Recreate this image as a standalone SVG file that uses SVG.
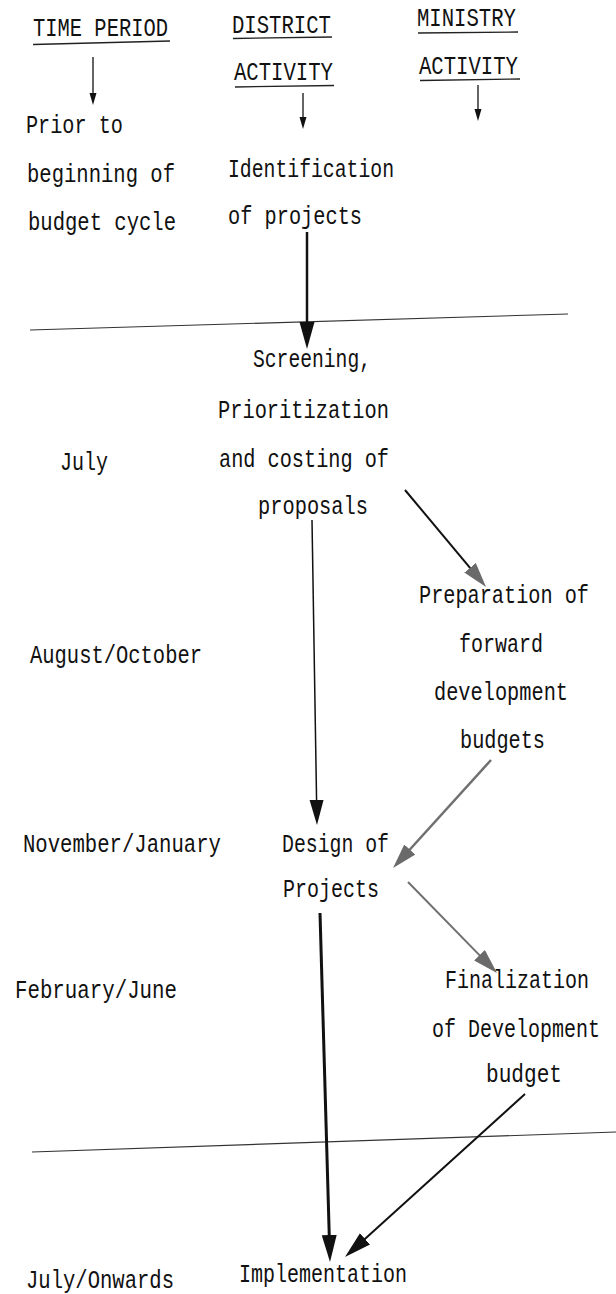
<svg xmlns="http://www.w3.org/2000/svg" width="616" height="1294" viewBox="0 0 616 1294">
<style>
  text { font-family: "Liberation Mono", "DejaVu Sans Mono", monospace; font-size: 20.5px; fill: #111; }
  .ul { stroke: #222; stroke-width: 1.3; }
  .sep { stroke: #333; stroke-width: 1.1; fill: none; }
  .blk { stroke: #111; fill: none; }
  .gry { stroke: #707070; fill: none; }
</style>
<defs>
  <marker id="ahS" markerUnits="userSpaceOnUse" markerWidth="14" markerHeight="8" refX="2" refY="3.5" orient="auto">
    <path d="M0,0 L12,3.5 L0,7 z" fill="#111"/>
  </marker>
  <marker id="ahL" markerUnits="userSpaceOnUse" markerWidth="30" markerHeight="16" refX="2" refY="7.5" orient="auto">
    <path d="M0,0 L27,7.5 L0,15 z" fill="#111"/>
  </marker>
  <marker id="ahM" markerUnits="userSpaceOnUse" markerWidth="28" markerHeight="15" refX="2" refY="7" orient="auto">
    <path d="M0,0 L25,7 L0,14 z" fill="#111"/>
  </marker>
  <marker id="ahG" markerUnits="userSpaceOnUse" markerWidth="28" markerHeight="16" refX="2" refY="7.5" orient="auto">
    <path d="M0,0 L25,7.5 L0,15 z" fill="#6a6a6a"/>
  </marker>
</defs>

<g id="connectors">
  <line class="sep" x1="30" y1="330" x2="568" y2="314"/>
  <line class="sep" x1="32" y1="1152" x2="616" y2="1132"/>
  <line class="blk" stroke-width="1.3" x1="93" y1="57" x2="93" y2="95" marker-end="url(#ahS)"/>
  <line class="blk" stroke-width="1.3" x1="303" y1="93" x2="303" y2="119" marker-end="url(#ahS)"/>
  <line class="blk" stroke-width="1.3" x1="478" y1="85" x2="478" y2="111" marker-end="url(#ahS)"/>
  <line class="blk" stroke-width="2.5" x1="307" y1="232" x2="307" y2="324" marker-end="url(#ahL)"/>
  <line class="blk" stroke-width="1.5" x1="312" y1="520" x2="316.6" y2="802" marker-end="url(#ahM)"/>
  <line class="blk" stroke-width="2" x1="405" y1="490" x2="471.3" y2="569.3" marker-end="url(#ahG)"/>
  <line class="gry" stroke-width="2.5" x1="491" y1="760" x2="408.5" y2="851" marker-end="url(#ahG)"/>
  <line class="gry" stroke-width="2" x1="408" y1="882" x2="480.9" y2="956.6" marker-end="url(#ahG)"/>
  <line class="blk" stroke-width="3" x1="320" y1="913" x2="329.3" y2="1237" marker-end="url(#ahL)"/>
  <line class="blk" stroke-width="2" x1="525" y1="1094" x2="363.5" y2="1240.2" marker-end="url(#ahL)"/>
</g>

<g id="header-time-period">
  <g transform="scale(1,1.25)"><text x="33" y="28.8" textLength="135" lengthAdjust="spacingAndGlyphs">TIME PERIOD</text></g>
  <line class="ul" x1="33" y1="44.5" x2="170" y2="41"/>
</g>
<g id="header-district-activity">
  <g transform="scale(1,1.25)">
    <text x="232" y="26.4" textLength="99" lengthAdjust="spacingAndGlyphs">DISTRICT</text>
    <text x="234" y="64" textLength="99" lengthAdjust="spacingAndGlyphs">ACTIVITY</text>
  </g>
  <line class="ul" x1="233" y1="38.5" x2="332" y2="37"/>
  <line class="ul" x1="235" y1="87" x2="334" y2="85.5"/>
</g>
<g id="header-ministry-activity">
  <g transform="scale(1,1.25)">
    <text x="417" y="20.8" textLength="99" lengthAdjust="spacingAndGlyphs">MINISTRY</text>
    <text x="419" y="59.2" textLength="99" lengthAdjust="spacingAndGlyphs">ACTIVITY</text>
  </g>
  <line class="ul" x1="418" y1="33" x2="518" y2="32"/>
  <line class="ul" x1="420" y1="80.5" x2="520" y2="79"/>
</g>

<g id="time-prior" transform="scale(1,1.25)">
  <text x="26" y="106.4" textLength="97" lengthAdjust="spacingAndGlyphs">Prior to</text>
  <text x="27" y="145.6" textLength="148" lengthAdjust="spacingAndGlyphs">beginning of</text>
  <text x="28" y="184" textLength="148" lengthAdjust="spacingAndGlyphs">budget cycle</text>
</g>
<g id="time-july" transform="scale(1,1.25)"><text x="60" y="376" textLength="48" lengthAdjust="spacingAndGlyphs">July</text></g>
<g id="time-aug-oct" transform="scale(1,1.25)"><text x="30" y="530.4" textLength="172" lengthAdjust="spacingAndGlyphs">August/October</text></g>
<g id="time-nov-jan" transform="scale(1,1.25)"><text x="23" y="681.6" textLength="198" lengthAdjust="spacingAndGlyphs">November/January</text></g>
<g id="time-feb-jun" transform="scale(1,1.25)"><text x="15" y="798.4" textLength="162" lengthAdjust="spacingAndGlyphs">February/June</text></g>
<g id="time-july-onwards" transform="scale(1,1.25)"><text x="26" y="1030.4" textLength="148" lengthAdjust="spacingAndGlyphs">July/Onwards</text></g>

<g id="identification" transform="scale(1,1.25)">
  <text x="228" y="141.6" textLength="166" lengthAdjust="spacingAndGlyphs">Identification</text>
  <text x="228" y="179.2" textLength="134" lengthAdjust="spacingAndGlyphs">of projects</text>
</g>
<g id="screening" transform="scale(1,1.25)">
  <text x="253" y="293.6" textLength="118" lengthAdjust="spacingAndGlyphs">Screening,</text>
  <text x="218" y="334.4" textLength="171" lengthAdjust="spacingAndGlyphs">Prioritization</text>
  <text x="219" y="373.6" textLength="170" lengthAdjust="spacingAndGlyphs">and costing of</text>
  <text x="258" y="411.2" textLength="110" lengthAdjust="spacingAndGlyphs">proposals</text>
</g>
<g id="preparation" transform="scale(1,1.25)">
  <text x="419" y="482.4" textLength="170" lengthAdjust="spacingAndGlyphs">Preparation of</text>
  <text x="459" y="521.6" textLength="84" lengthAdjust="spacingAndGlyphs">forward</text>
  <text x="434" y="560" textLength="134" lengthAdjust="spacingAndGlyphs">development</text>
  <text x="460" y="598.4" textLength="85" lengthAdjust="spacingAndGlyphs">budgets</text>
</g>
<g id="design" transform="scale(1,1.25)">
  <text x="282" y="681.6" textLength="107" lengthAdjust="spacingAndGlyphs">Design of</text>
  <text x="283" y="717.6" textLength="96" lengthAdjust="spacingAndGlyphs">Projects</text>
</g>
<g id="finalization" transform="scale(1,1.25)">
  <text x="445" y="790.4" textLength="144" lengthAdjust="spacingAndGlyphs">Finalization</text>
  <text x="432" y="829.6" textLength="168" lengthAdjust="spacingAndGlyphs">of Development</text>
  <text x="486" y="865.6" textLength="76" lengthAdjust="spacingAndGlyphs">budget</text>
</g>
<g id="implementation" transform="scale(1,1.25)">
  <text x="239" y="1025.6" textLength="168" lengthAdjust="spacingAndGlyphs">Implementation</text>
</g>
</svg>
